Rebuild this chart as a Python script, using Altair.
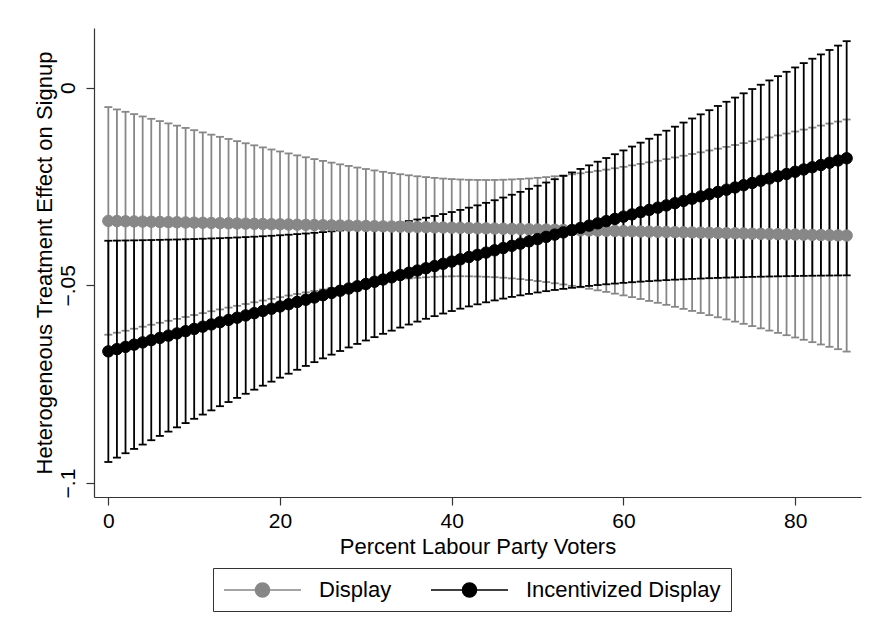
import altair as alt
import pandas as pd

# ---------------- data ----------------
x_vals = list(range(87))

display_est = [-.03370, -.03374, -.03379, -.03383, -.03387, -.03392, -.03396, -.03400, -.03404, -.03409,
               -.03413, -.03417, -.03422, -.03426, -.03430, -.03435, -.03439, -.03443, -.03447, -.03452,
               -.03456, -.03460, -.03465, -.03469, -.03473, -.03478, -.03482, -.03486, -.03490, -.03495,
               -.03499, -.03503, -.03508, -.03512, -.03516, -.03521, -.03525, -.03529, -.03533, -.03538,
               -.03542, -.03546, -.03551, -.03555, -.03559, -.03564, -.03568, -.03572, -.03576, -.03581,
               -.03585, -.03589, -.03594, -.03598, -.03602, -.03607, -.03611, -.03615, -.03619, -.03624,
               -.03628, -.03632, -.03637, -.03641, -.03645, -.03650, -.03654, -.03658, -.03662, -.03667,
               -.03671, -.03675, -.03680, -.03684, -.03688, -.03693, -.03697, -.03701, -.03705, -.03710,
               -.03714, -.03718, -.03723, -.03727, -.03731, -.03736, -.03740]
display_hi = [-.00491, -.00550, -.00610, -.00669, -.00728, -.00787, -.00845, -.00903, -.00960, -.01018,
              -.01075, -.01131, -.01188, -.01243, -.01297, -.01352, -.01406, -.01458, -.01510, -.01563,
              -.01613, -.01663, -.01712, -.01760, -.01806, -.01852, -.01896, -.01939, -.01979, -.02020,
              -.02057, -.02093, -.02128, -.02159, -.02189, -.02216, -.02241, -.02262, -.02281, -.02299,
              -.02312, -.02322, -.02330, -.02334, -.02335, -.02334, -.02329, -.02320, -.02309, -.02297,
              -.02280, -.02262, -.02241, -.02218, -.02192, -.02165, -.02136, -.02104, -.02072, -.02038,
              -.02002, -.01965, -.01928, -.01888, -.01848, -.01807, -.01765, -.01721, -.01677, -.01634,
              -.01588, -.01542, -.01497, -.01450, -.01402, -.01355, -.01306, -.01257, -.01208, -.01159,
              -.01109, -.01059, -.01009, -.00958, -.00907, -.00857, -.00805]
display_lo = [-.06249, -.06198, -.06148, -.06097, -.06046, -.05997, -.05947, -.05897, -.05848, -.05800,
              -.05751, -.05703, -.05656, -.05609, -.05563, -.05518, -.05472, -.05428, -.05384, -.05341,
              -.05299, -.05257, -.05218, -.05178, -.05140, -.05104, -.05068, -.05033, -.05001, -.04970,
              -.04941, -.04913, -.04888, -.04865, -.04843, -.04826, -.04809, -.04796, -.04785, -.04777,
              -.04772, -.04770, -.04772, -.04776, -.04783, -.04794, -.04807, -.04824, -.04843, -.04865,
              -.04890, -.04916, -.04947, -.04978, -.05012, -.05049, -.05086, -.05126, -.05166, -.05210,
              -.05254, -.05299, -.05346, -.05394, -.05442, -.05493, -.05543, -.05595, -.05647, -.05700,
              -.05754, -.05808, -.05863, -.05918, -.05974, -.06031, -.06088, -.06145, -.06202, -.06261,
              -.06319, -.06377, -.06437, -.06496, -.06555, -.06615, -.06675]

incent_est = [-.06670, -.06613, -.06556, -.06500, -.06443, -.06386, -.06329, -.06272, -.06216, -.06159,
              -.06102, -.06045, -.05988, -.05932, -.05875, -.05818, -.05761, -.05704, -.05648, -.05591,
              -.05534, -.05477, -.05420, -.05364, -.05307, -.05250, -.05193, -.05136, -.05080, -.05023,
              -.04966, -.04909, -.04852, -.04796, -.04739, -.04682, -.04625, -.04568, -.04512, -.04455,
              -.04398, -.04341, -.04284, -.04228, -.04171, -.04114, -.04057, -.04000, -.03944, -.03887,
              -.03830, -.03773, -.03716, -.03660, -.03603, -.03546, -.03489, -.03432, -.03376, -.03319,
              -.03262, -.03205, -.03148, -.03092, -.03035, -.02978, -.02921, -.02864, -.02808, -.02751,
              -.02694, -.02637, -.02580, -.02524, -.02467, -.02410, -.02353, -.02296, -.02240, -.02183,
              -.02126, -.02069, -.02012, -.01956, -.01899, -.01842, -.01785]
incent_hi = [-.03872, -.03868, -.03865, -.03862, -.03858, -.03854, -.03849, -.03844, -.03840, -.03834,
             -.03828, -.03821, -.03813, -.03807, -.03798, -.03789, -.03779, -.03769, -.03758, -.03746,
             -.03733, -.03719, -.03704, -.03689, -.03671, -.03653, -.03633, -.03611, -.03589, -.03564,
             -.03537, -.03508, -.03478, -.03446, -.03410, -.03373, -.03333, -.03290, -.03245, -.03197,
             -.03146, -.03092, -.03035, -.02976, -.02913, -.02847, -.02779, -.02708, -.02635, -.02558,
             -.02480, -.02399, -.02315, -.02231, -.02144, -.02055, -.01964, -.01872, -.01779, -.01683,
             -.01587, -.01489, -.01390, -.01291, -.01190, -.01088, -.00986, -.00882, -.00779, -.00674,
             -.00569, -.00462, -.00356, -.00250, -.00142, -.00034, .00075, .00184, .00292, .00402,
             .00512, .00622, .00733, .00842, .00954, .01065, .01177]
incent_lo = [-.09468, -.09358, -.09247, -.09138, -.09028, -.08918, -.08809, -.08700, -.08592, -.08484,
             -.08376, -.08269, -.08163, -.08057, -.07952, -.07847, -.07743, -.07639, -.07538, -.07436,
             -.07335, -.07235, -.07136, -.07039, -.06943, -.06847, -.06753, -.06661, -.06571, -.06482,
             -.06395, -.06310, -.06226, -.06146, -.06068, -.05991, -.05917, -.05846, -.05779, -.05713,
             -.05650, -.05590, -.05533, -.05480, -.05429, -.05381, -.05335, -.05292, -.05253, -.05216,
             -.05180, -.05147, -.05117, -.05089, -.05062, -.05037, -.05014, -.04992, -.04973, -.04955,
             -.04937, -.04921, -.04906, -.04893, -.04880, -.04868, -.04856, -.04846, -.04837, -.04828,
             -.04819, -.04812, -.04804, -.04798, -.04792, -.04786, -.04781, -.04776, -.04772, -.04768,
             -.04764, -.04760, -.04757, -.04754, -.04752, -.04749, -.04747]

series_names = ["Display", "Incentivized Display"]
series_colors = ["#878787", "#000000"]
x_ticks = [0, 20, 40, 60, 80]
y_ticks = [0, -0.05, -0.1]

rows = []
for name, est, lo, hi in [(series_names[0], display_est, display_lo, display_hi),
                          (series_names[1], incent_est, incent_lo, incent_hi)]:
    for xv, e, l, h in zip(x_vals, est, lo, hi):
        rows.append({"x": xv, "series": name, "est": e, "lo": l, "hi": h})
df = pd.DataFrame(rows)

FONT = "Liberation Sans"

xscale = alt.Scale(domain=[-1.67, 87.67], nice=False, zero=False)
yscale = alt.Scale(domain=[-0.10354, 0.0151], nice=False, zero=False)

xaxis = alt.Axis(values=x_ticks, title="Percent Labour Party Voters", grid=False,
                 tickSize=8, labelPadding=5, titlePadding=5,
                 labelFontSize=21, titleFontSize=22, labelFont=FONT, titleFont=FONT,
                 labelColor="black", titleColor="black", titleFontWeight="normal",
                 domainColor="#333333", tickColor="#333333", domainWidth=1.2, tickWidth=1.2)
yaxis = alt.Axis(values=y_ticks, title="Heterogeneous Treatment Effect on Signup", grid=False,
                 labelAngle=-90, labelAlign="center", labelBaseline="bottom",
                 labelExpr="datum.value == 0 ? '0' : replace(format(datum.value, '.2~f'), '0.', '.')",
                 tickSize=8, labelPadding=8, titlePadding=1,
                 labelFontSize=21, titleFontSize=22, labelFont=FONT, titleFont=FONT,
                 labelColor="black", titleColor="black", titleFontWeight="normal",
                 domainColor="#333333", tickColor="#333333", domainWidth=1.2, tickWidth=1.2)


def X():
    return alt.X("x:Q", scale=xscale, axis=xaxis)


def Y(field):
    return alt.Y(f"{field}:Q", scale=yscale, axis=yaxis)


base = alt.Chart(df)

layers = []
# confidence-interval caps and bars, series by series (grey first, black on top)
for name, col in zip(series_names, series_colors):
    sub = base.transform_filter(alt.datum.series == name)
    layers.append(sub.mark_rule(strokeWidth=1.8, color=col).encode(x=X(), y=Y("lo"), y2="hi:Q"))
    layers.append(sub.mark_tick(orient="horizontal", size=8, thickness=1.8, opacity=1, color=col)
                  .encode(x=X(), y=Y("lo")))
    layers.append(sub.mark_tick(orient="horizontal", size=8, thickness=1.8, opacity=1, color=col)
                  .encode(x=X(), y=Y("hi")))

# connecting lines of the point estimates
for name, col in zip(series_names, series_colors):
    sub = base.transform_filter(alt.datum.series == name)
    layers.append(sub.mark_line(strokeWidth=1.5, color=col).encode(x=X(), y=Y("est")))

legend_path = "M-1,0H6M3.14,0A0.64,0.64,0,1,1,1.86,0A0.64,0.64,0,1,1,3.14,0Z"
leg = alt.Legend(title=None, orient="none", legendX=119, legendY=540, direction="horizontal",
                 symbolType=legend_path, symbolSize=484, symbolStrokeWidth=1.5,
                 labelFontSize=22, labelFont=FONT, labelColor="black", labelOffset=72,
                 labelLimit=0, columnPadding=36, padding=10,
                 strokeColor="#333333", fillColor="white")

layers.append(base.mark_circle(size=130, opacity=1, strokeWidth=1).encode(
    x=X(), y=Y("est"),
    color=alt.Color("series:N", scale=alt.Scale(domain=series_names, range=series_colors), legend=leg),
    stroke=alt.Stroke("series:N", scale=alt.Scale(domain=series_names, range=series_colors), legend=leg),
))

chart = alt.layer(*layers).properties(
    width=767, height=469,
    autosize=alt.AutoSizeParams(type="none"),
    padding={"left": 94, "top": 28, "right": 10, "bottom": 138},
    background="white",
).configure_view(stroke=None)

chart.save("out.html", embed_options={"renderer": "svg", "actions": False})
